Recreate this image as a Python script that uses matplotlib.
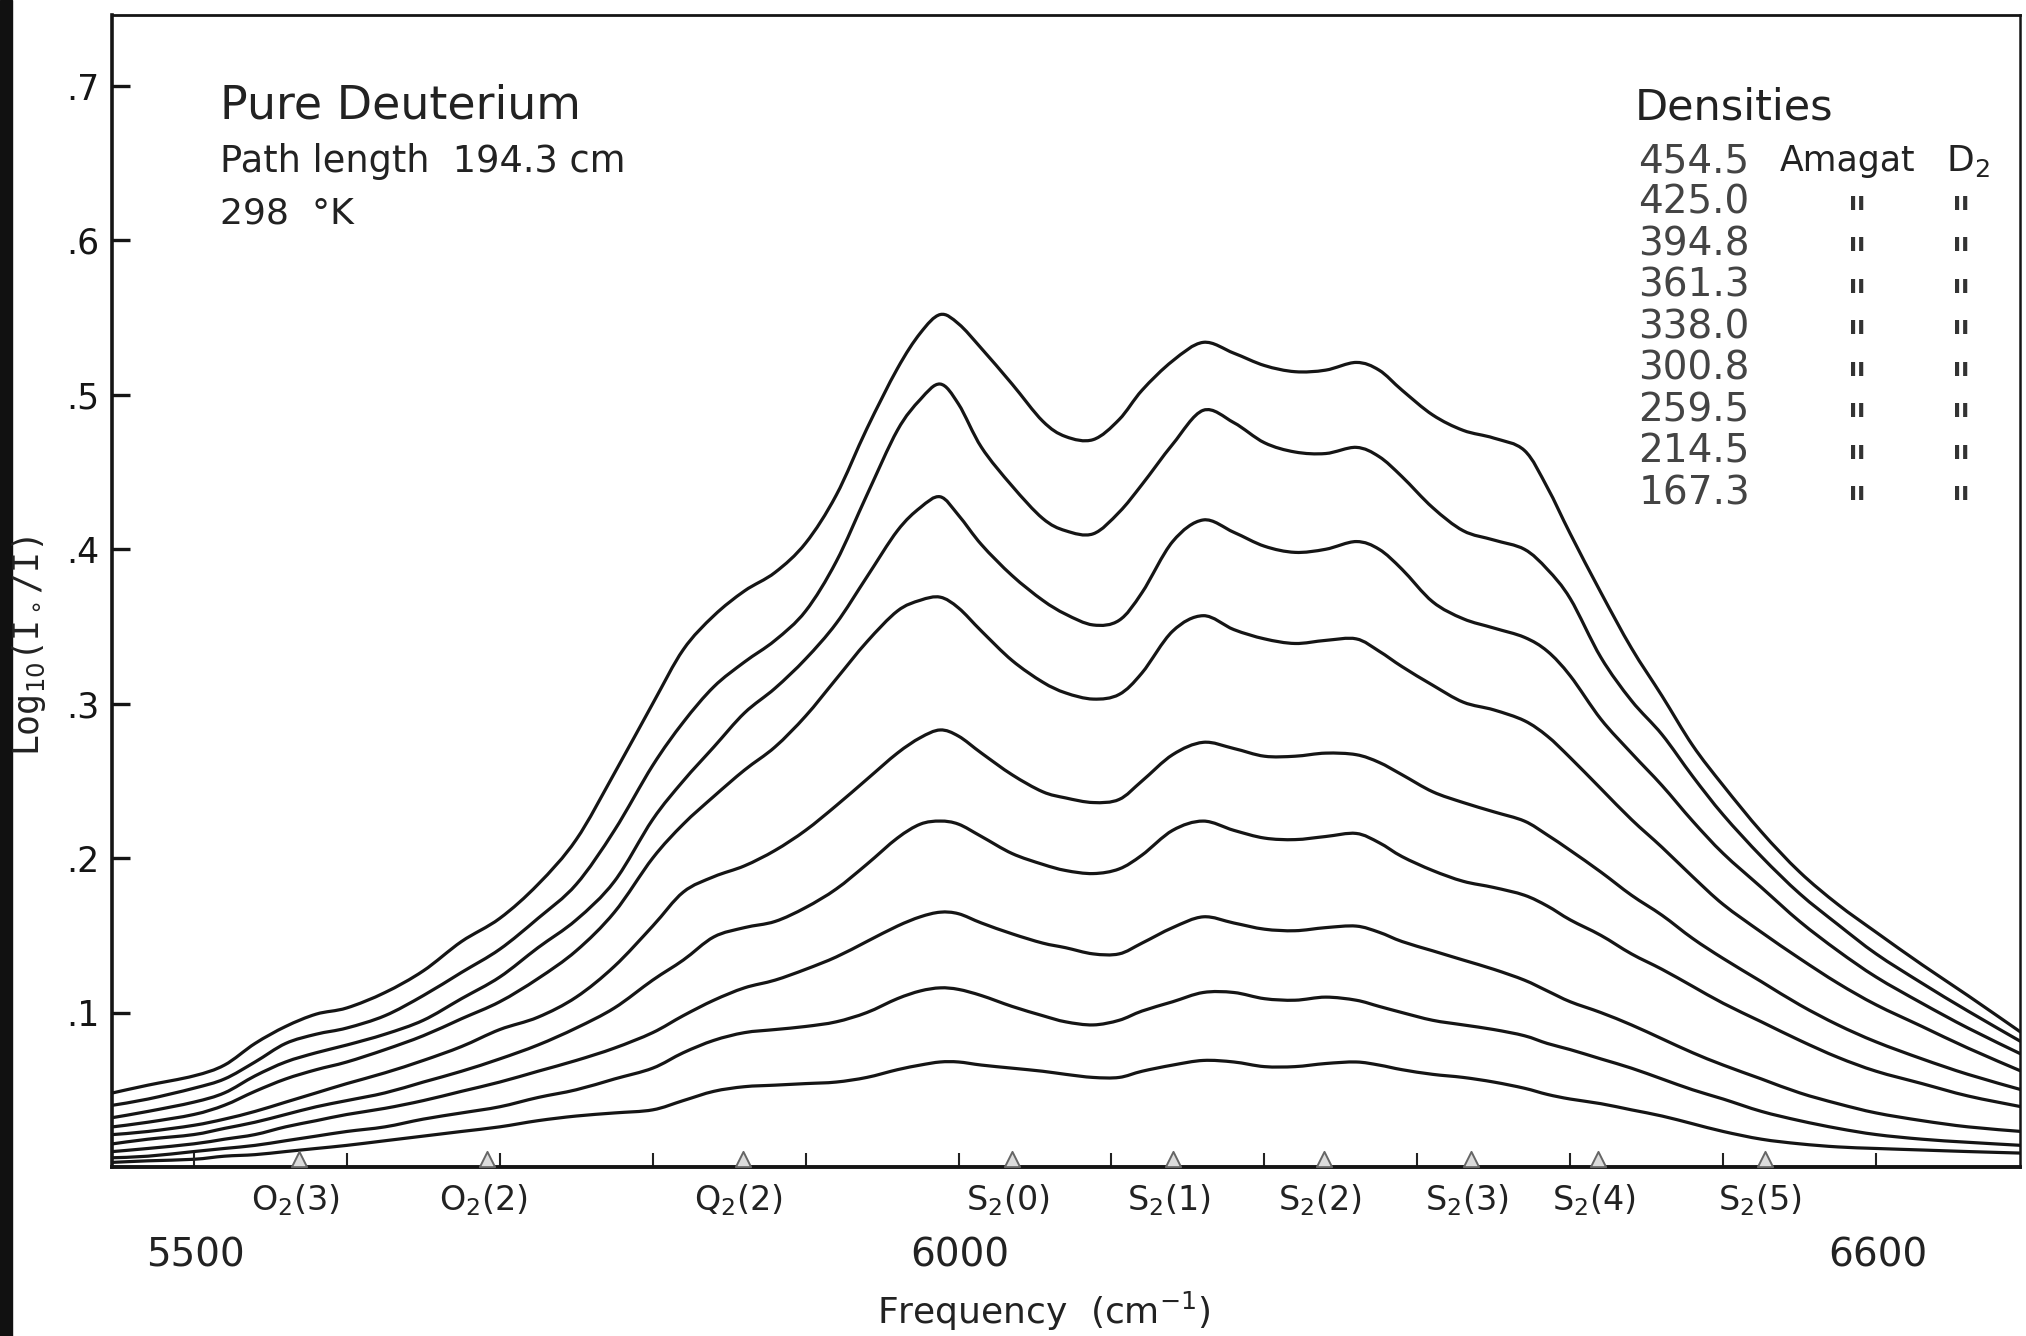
import numpy as np
import matplotlib.pyplot as plt
from matplotlib import transforms
from matplotlib.path import Path
from matplotlib.patches import PathPatch, Rectangle

# frequency grid (cm-1)
freq = [5447, 5470, 5500, 5520, 5540, 5560, 5580, 5600, 5625, 5650, 5675, 5700,
        5725, 5750, 5775, 5800, 5820, 5840, 5860, 5880, 5900, 5920, 5940, 5960,
        5975, 5988, 6000, 6015, 6035, 6055, 6070, 6088, 6105, 6120, 6140, 6160,
        6180, 6200, 6220, 6240, 6260, 6275, 6290, 6310, 6330, 6350, 6370, 6385,
        6400, 6420, 6440, 6460, 6480, 6500, 6525, 6550, 6575, 6600, 6630, 6660, 6695]

# log10(I0/I) for each density (Amagat)
a4545 = [0.048, 0.053, 0.059, 0.066, 0.080, 0.091, 0.099, 0.103, 0.113, 0.127, 0.146, 0.161,
         0.183, 0.212, 0.255, 0.300, 0.335, 0.357, 0.373, 0.385, 0.404, 0.435, 0.478, 0.517,
         0.540, 0.552, 0.546, 0.530, 0.507, 0.483, 0.473, 0.471, 0.484, 0.503, 0.522, 0.534,
         0.527, 0.519, 0.515, 0.516, 0.521, 0.516, 0.503, 0.487, 0.477, 0.472, 0.464, 0.440,
         0.410, 0.372, 0.336, 0.305, 0.273, 0.247, 0.217, 0.191, 0.170, 0.152, 0.131, 0.111, 0.087]
a4250 = [0.040, 0.044, 0.051, 0.057, 0.068, 0.080, 0.086, 0.090, 0.098, 0.111, 0.126, 0.141,
         0.161, 0.183, 0.218, 0.260, 0.288, 0.311, 0.327, 0.341, 0.360, 0.392, 0.435, 0.477,
         0.497, 0.507, 0.494, 0.466, 0.441, 0.420, 0.412, 0.410, 0.424, 0.442, 0.468, 0.490,
         0.482, 0.469, 0.463, 0.462, 0.466, 0.460, 0.447, 0.427, 0.412, 0.406, 0.400, 0.387,
         0.368, 0.330, 0.302, 0.280, 0.253, 0.228, 0.201, 0.177, 0.157, 0.138, 0.119, 0.101, 0.081]
a3948 = [0.032, 0.036, 0.042, 0.048, 0.059, 0.068, 0.074, 0.079, 0.086, 0.095, 0.109, 0.123,
         0.142, 0.160, 0.185, 0.225, 0.250, 0.272, 0.294, 0.310, 0.329, 0.352, 0.382, 0.412,
         0.427, 0.434, 0.422, 0.403, 0.383, 0.367, 0.358, 0.351, 0.354, 0.372, 0.405, 0.419,
         0.411, 0.402, 0.398, 0.400, 0.405, 0.400, 0.387, 0.366, 0.355, 0.349, 0.343, 0.334,
         0.318, 0.290, 0.268, 0.247, 0.224, 0.203, 0.181, 0.159, 0.140, 0.123, 0.106, 0.090, 0.073]
a3613 = [0.026, 0.029, 0.034, 0.040, 0.049, 0.057, 0.063, 0.068, 0.076, 0.085, 0.096, 0.107,
         0.122, 0.140, 0.165, 0.200, 0.222, 0.240, 0.257, 0.272, 0.292, 0.316, 0.340, 0.360,
         0.367, 0.369, 0.362, 0.347, 0.328, 0.314, 0.307, 0.303, 0.306, 0.320, 0.347, 0.357,
         0.348, 0.342, 0.339, 0.341, 0.342, 0.334, 0.324, 0.312, 0.301, 0.296, 0.289, 0.279,
         0.265, 0.245, 0.225, 0.207, 0.188, 0.170, 0.152, 0.135, 0.119, 0.105, 0.091, 0.077, 0.062]
a3380 = [0.021, 0.023, 0.027, 0.031, 0.036, 0.042, 0.048, 0.054, 0.061, 0.069, 0.078, 0.089,
         0.097, 0.110, 0.130, 0.156, 0.178, 0.188, 0.195, 0.205, 0.218, 0.234, 0.251, 0.268,
         0.278, 0.283, 0.279, 0.268, 0.254, 0.243, 0.239, 0.236, 0.238, 0.250, 0.267, 0.275,
         0.271, 0.266, 0.266, 0.268, 0.267, 0.262, 0.254, 0.243, 0.236, 0.230, 0.224, 0.215,
         0.205, 0.191, 0.176, 0.163, 0.148, 0.135, 0.120, 0.105, 0.092, 0.081, 0.070, 0.060, 0.050]
a3008 = [0.015, 0.018, 0.021, 0.025, 0.029, 0.034, 0.039, 0.043, 0.048, 0.055, 0.062, 0.070,
         0.079, 0.090, 0.103, 0.121, 0.134, 0.149, 0.155, 0.159, 0.168, 0.180, 0.196, 0.213,
         0.222, 0.224, 0.222, 0.214, 0.203, 0.196, 0.192, 0.190, 0.193, 0.202, 0.218, 0.224,
         0.218, 0.213, 0.212, 0.214, 0.216, 0.210, 0.201, 0.192, 0.185, 0.181, 0.176, 0.169,
         0.160, 0.150, 0.138, 0.128, 0.117, 0.106, 0.094, 0.082, 0.071, 0.062, 0.054, 0.046, 0.039]
a2595 = [0.010, 0.012, 0.015, 0.018, 0.021, 0.026, 0.030, 0.034, 0.038, 0.043, 0.049, 0.055,
         0.062, 0.069, 0.077, 0.087, 0.098, 0.108, 0.116, 0.121, 0.128, 0.136, 0.146, 0.156,
         0.162, 0.165, 0.164, 0.158, 0.151, 0.145, 0.142, 0.138, 0.138, 0.145, 0.155, 0.162,
         0.158, 0.154, 0.153, 0.155, 0.156, 0.152, 0.146, 0.140, 0.134, 0.128, 0.121, 0.114,
         0.107, 0.100, 0.092, 0.083, 0.074, 0.066, 0.057, 0.048, 0.041, 0.035, 0.030, 0.026, 0.023]
a2145 = [0.006, 0.007, 0.010, 0.012, 0.014, 0.017, 0.020, 0.023, 0.026, 0.031, 0.035, 0.039,
         0.045, 0.050, 0.057, 0.064, 0.074, 0.082, 0.087, 0.089, 0.091, 0.094, 0.100, 0.109,
         0.114, 0.116, 0.115, 0.111, 0.104, 0.098, 0.094, 0.092, 0.095, 0.101, 0.107, 0.113,
         0.113, 0.109, 0.108, 0.110, 0.108, 0.104, 0.100, 0.095, 0.092, 0.089, 0.085, 0.080,
         0.076, 0.070, 0.064, 0.057, 0.050, 0.044, 0.036, 0.030, 0.025, 0.021, 0.018, 0.016, 0.014]
a1673 = [0.003, 0.004, 0.005, 0.007, 0.008, 0.010, 0.012, 0.014, 0.017, 0.020, 0.023, 0.026,
         0.030, 0.033, 0.035, 0.037, 0.043, 0.049, 0.052, 0.053, 0.054, 0.055, 0.058, 0.063,
         0.066, 0.068, 0.068, 0.066, 0.064, 0.062, 0.060, 0.058, 0.058, 0.062, 0.066, 0.069,
         0.068, 0.065, 0.065, 0.067, 0.068, 0.066, 0.063, 0.060, 0.058, 0.055, 0.051, 0.047,
         0.044, 0.041, 0.037, 0.033, 0.028, 0.023, 0.018, 0.015, 0.013, 0.012, 0.011, 0.010, 0.009]

curves = [a4545, a4250, a3948, a3613, a3380, a3008, a2595, a2145, a1673]
densities = ['454.5', '425.0', '394.8', '361.3', '338.0', '300.8', '259.5', '214.5', '167.3']

# line positions of the D2 overtone band
line_pos = [5569, 5692, 5859, 6035, 6140, 6239, 6335, 6418, 6527]
line_names = ['O$_2$(3)', 'O$_2$(2)', 'Q$_2$(2)', 'S$_2$(0)', 'S$_2$(1)',
              'S$_2$(2)', 'S$_2$(3)', 'S$_2$(4)', 'S$_2$(5)']

freq_ticks = list(range(5500, 6700, 100))
freq_labels = [5500, 6000, 6600]
yticks = [0.1, 0.2, 0.3, 0.4, 0.5, 0.6, 0.7]
ytick_labels = ['.1', '.2', '.3', '.4', '.5', '.6', '.7']


def smooth_path(xs, ys):
    # Catmull-Rom style cubic Bezier path through the read points (pen-drawn look)
    p = np.column_stack([xs, ys]).astype(float)
    n = len(p)
    verts = [p[0]]
    codes = [Path.MOVETO]
    for i in range(n - 1):
        p0 = p[i - 1] if i > 0 else p[i]
        p3 = p[i + 2] if i + 2 < n else p[i + 1]
        c1 = p[i] + (p[i + 1] - p0) / 6.0
        c2 = p[i + 1] - (p3 - p[i]) / 6.0
        verts += [c1, c2, p[i + 1]]
        codes += [Path.CURVE4] * 3
    return Path(verts, codes)


plt.rcParams['font.family'] = ['DejaVu Sans']
plt.rcParams['mathtext.fontset'] = 'dejavusans'

fig = plt.figure(figsize=(20.26, 13.36), dpi=100)
ax = fig.add_axes([0.0553, 0.1265, 0.9417, 0.8623])

# dark scan edge on the left
fig.patches.append(Rectangle((0, 0), 0.006, 1, transform=fig.transFigure,
                             color='#111111', zorder=0))

for vals in curves:
    ax.add_patch(PathPatch(smooth_path(freq, vals), fill=False, edgecolor='#151515',
                           lw=2.3, joinstyle='round', capstyle='round'))

ax.set_xlim(5446.5, 6694)
ax.set_ylim(0, 0.746)

for side, lw in [('left', 2.6), ('bottom', 2.8), ('top', 2.0), ('right', 1.8)]:
    ax.spines[side].set_linewidth(lw)
    ax.spines[side].set_color('#151515')

ax.set_yticks(yticks)
ax.set_yticklabels(ytick_labels, fontsize=25)
ax.tick_params(axis='y', direction='in', length=13, width=2.4, pad=9,
               colors='#151515')
ax.set_xticks(freq_ticks)
ax.set_xticklabels([])
ax.tick_params(axis='x', direction='in', length=10, width=1.5, colors='#222222')

# triangles marking line positions, sitting on the baseline
tri_trans = transforms.offset_copy(ax.transData, fig=fig, x=0, y=6, units='points')
ax.scatter(line_pos, np.zeros(len(line_pos)), marker='^', s=120,
           facecolor='#dcdcdc', edgecolor='#666666', linewidths=1.4,
           transform=tri_trans, clip_on=False, zorder=3)

for x, name in zip(line_pos, line_names):
    ax.annotate(name, xy=(x, 0), xycoords=('data', 'axes fraction'),
                xytext=(-3, -24), textcoords='offset points',
                ha='center', va='center', fontsize=24, color='#222222')

for x in freq_labels:
    ax.annotate(str(x), xy=(x, 0), xycoords=('data', 'axes fraction'),
                xytext=(1, -64), textcoords='offset points',
                ha='center', va='center', fontsize=28, color='#222222')

ax.annotate('Frequency  (cm$^{-1}$)', xy=(6056, 0), xycoords=('data', 'axes fraction'),
            xytext=(0, -104), textcoords='offset points',
            ha='center', va='center', fontsize=26, color='#222222')

fig.text(0.0145, 0.517, 'Log$_{10}$(I$_\\circ$/I)', rotation=90, ha='center',
         va='center', fontsize=25, family=['DejaVu Sans Mono'], color='#222222')

# sample description
ax.text(0.0564, 0.921, 'Pure Deuterium', transform=ax.transAxes, fontsize=33,
        va='center', color='#222222')
ax.text(0.0564, 0.873, 'Path length  194.3 cm', transform=ax.transAxes, fontsize=26.5,
        va='center', color='#222222')
ax.text(0.0564, 0.828, '298  °K', transform=ax.transAxes, fontsize=26,
        va='center', color='#222222')

# density legend
ax.text(0.798, 0.920, 'Densities', transform=ax.transAxes, fontsize=31,
        va='center', color='#222222')
for i, d in enumerate(densities):
    y = 0.873 - i * 0.036
    ax.text(0.800, y, d, transform=ax.transAxes, fontsize=28, va='center',
            color='#444444')
    if i == 0:
        ax.text(0.874, y, 'Amagat', transform=ax.transAxes, fontsize=25,
                va='center', color='#222222')
        ax.text(0.961, y, 'D$_2$', transform=ax.transAxes, fontsize=26,
                va='center', color='#222222')
    else:
        for xd in (0.9145, 0.969):
            ax.text(xd, y, 'ıı', transform=ax.transAxes, fontsize=17,
                    fontweight='bold', va='center', ha='center', color='#333333')

fig.savefig('out.png', dpi=100)
